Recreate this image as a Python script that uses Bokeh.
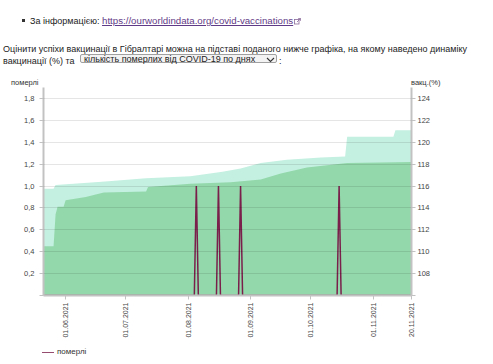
import pandas as pd
from bokeh.plotting import figure
from bokeh.models import (Range1d, LinearAxis, FixedTicker, CustomJSTickFormatter,
                          DatetimeTickFormatter, Div, ColumnDataSource, Spacer)
from bokeh.layouts import column, row
from bokeh.embed import file_html
from bokeh.resources import INLINE

# ---------------- data ----------------
# vaccination, at least one dose (%), right axis
light_dates = ["2021-05-21", "2021-05-26", "2021-05-27", "2021-06-19", "2021-07-11",
               "2021-08-02", "2021-08-18", "2021-08-27", "2021-09-06", "2021-09-19",
               "2021-10-06", "2021-10-18", "2021-10-19", "2021-11-11", "2021-11-12",
               "2021-11-20"]
light_vals = [115.75, 115.75, 116.1, 116.4, 116.7,
              116.9, 117.3, 117.6, 118.1, 118.4,
              118.6, 118.7, 120.5, 120.5, 121.1,
              121.1]
# vaccination, fully vaccinated (%), right axis
green_dates = ["2021-05-21", "2021-05-26", "2021-05-27", "2021-05-28", "2021-05-31",
               "2021-06-01", "2021-06-11", "2021-06-20", "2021-07-11", "2021-07-12",
               "2021-08-02", "2021-08-22", "2021-09-06", "2021-09-16", "2021-09-29",
               "2021-10-19", "2021-11-20"]
green_vals = [110.5, 110.5, 113.4, 114.1, 114.1,
              114.7, 115.0, 115.4, 115.5, 115.9,
              116.2, 116.35, 116.6, 117.15, 117.7,
              118.1, 118.2]
# deaths per day (left axis): days with deaths, all other days 0
death_dates = ["2021-08-05", "2021-08-16", "2021-08-27", "2021-10-15"]
death_counts = [1, 1, 1, 1]

x_start = "2021-05-21"
x_end = "2021-11-20"
tick_dates = ["2021-06-01", "2021-07-01", "2021-08-01", "2021-09-01",
              "2021-10-01", "2021-11-01", "2021-11-20"]
left_ticks = [0, 0.2, 0.4, 0.6, 0.8, 1.0, 1.2, 1.4, 1.6, 1.8]
right_ticks = [106, 108, 110, 112, 114, 116, 118, 120, 122, 124]
left_max = 1.9
vax_min, vax_max = 106, 125

legend_label = "померлі"
left_title = "померлі"
right_title = "вакц.(%)"

FONT = "Liberation Sans"
LIGHT = "#c4f0e1"
GREEN = "#93d8ab"
DEATH = "#7a1f4b"
AXIS = "#c2c2c2"
TXT = "#444444"


def ms(d):
    return pd.Timestamp(d).value / 1e6


days = pd.date_range(x_start, x_end, freq="D")
deaths = pd.Series(death_counts, index=pd.to_datetime(death_dates)).reindex(days, fill_value=0)

src_light = ColumnDataSource(dict(x=pd.to_datetime(light_dates), y=light_vals))
src_green = ColumnDataSource(dict(x=pd.to_datetime(green_dates), y=green_vals))
src_death = ColumnDataSource(dict(x=days, y=deaths.values))

p = figure(frame_width=368, frame_height=208, x_axis_type="datetime",
           x_range=Range1d(ms(x_start), ms(x_end)), y_range=Range1d(0, left_max),
           output_backend="svg", toolbar_location=None,
           min_border_left=27, min_border_right=20, min_border_top=2, min_border_bottom=0)
p.extra_y_ranges = {"vax": Range1d(vax_min, vax_max)}
p.outline_line_color = None
p.background_fill_color = "white"
p.border_fill_color = None

p.varea(x="x", y1=vax_min, y2="y", source=src_light, y_range_name="vax", fill_color=LIGHT)
p.varea(x="x", y1=vax_min, y2="y", source=src_green, y_range_name="vax", fill_color=GREEN)
r_death = p.line(x="x", y="y", source=src_death, line_color=DEATH, line_width=1.5,
                 legend_label=legend_label)
p.legend.visible = False

# grid
p.xgrid.visible = False
p.ygrid.ticker = FixedTicker(ticks=left_ticks[1:])
p.ygrid.grid_line_color = "#000000"
p.ygrid.grid_line_alpha = 0.1
p.ygrid.level = "overlay"

# x axis
xa = p.xaxis[0]
xa.ticker = FixedTicker(ticks=[ms(d) for d in tick_dates])
fmt = "%d.%m.%Y"
xa.formatter = DatetimeTickFormatter(microseconds=fmt, milliseconds=fmt, seconds=fmt,
                                     minsec=fmt, minutes=fmt, hourmin=fmt, hours=fmt,
                                     days=fmt, months=fmt, years=fmt)
xa.major_label_orientation = 3.14159265 / 2
xa.major_label_text_font_size = "7px"
xa.major_label_text_font = FONT
xa.major_label_text_color = TXT
xa.major_label_standoff = 3
xa.axis_line_color = AXIS
xa.axis_line_width = 2
xa.major_tick_line_color = AXIS
xa.major_tick_out = 4
xa.major_tick_in = 0
xa.minor_tick_line_color = None

# left axis
ya = p.yaxis[0]
ya.ticker = FixedTicker(ticks=left_ticks)
ya.formatter = CustomJSTickFormatter(code="return tick == 0 ? '' : tick.toFixed(1).replace('.', ',');")
ya.major_label_text_font_size = "7.5px"
ya.major_label_text_font = FONT
ya.major_label_text_color = TXT
ya.major_label_standoff = 5
ya.axis_line_color = AXIS
ya.axis_line_width = 2
ya.major_tick_line_color = AXIS
ya.major_tick_out = 4
ya.major_tick_in = 0
ya.minor_tick_line_color = None

# right axis
ra = LinearAxis(y_range_name="vax", ticker=FixedTicker(ticks=right_ticks),
                formatter=CustomJSTickFormatter(code="return tick == 106 ? '' : tick.toFixed(0);"))
ra.major_label_text_font_size = "7.5px"
ra.major_label_text_font = FONT
ra.major_label_text_color = TXT
ra.major_label_standoff = 2
ra.axis_line_color = AXIS
ra.axis_line_width = 2
ra.major_tick_line_color = AXIS
ra.major_tick_out = 4
ra.major_tick_in = 0
ra.minor_tick_line_color = None
p.add_layout(ra, "right")

icon = ('<svg width="7" height="7" viewBox="0 0 7 7" style="display:inline-block;vertical-align:-1px;margin-left:1px;">'
        '<rect x="0.5" y="1.5" width="4.5" height="4.5" fill="none" stroke="#8a6a9a" stroke-width="0.8"/>'
        '<path d="M3 4 L6.5 0.5 M4.2 0.5 H6.5 V2.8" fill="none" stroke="#8a6a9a" stroke-width="0.8"/></svg>')
chev = ('<svg width="9" height="6" viewBox="0 0 9 6" style="position:absolute;left:185px;top:2px">'
        '<path d="M1 1 L4.5 4.5 L8 1" fill="none" stroke="#333" stroke-width="1.1"/></svg>')

html_top = f"""
<div style="position:relative;width:477px;height:75px;font-family:'Liberation Sans',Arial,sans-serif;color:#222;white-space:nowrap;font-size:9px;line-height:12px;">
  <div style="position:absolute;left:17px;top:14px;width:3px;height:3px;background:#333;"></div>
  <div style="position:absolute;left:25px;top:10px;">За інформацією: <a href="https://ourworldindata.org/covid-vaccinations" style="color:#5f3a86;text-decoration:underline;font-size:9.7px;">https://ourworldindata.org/covid-vaccinations</a>{icon}</div>
  <div style="position:absolute;left:-2px;top:37.7px;">Оцінити успіхи вакцинації в <span style="position:relative;">Гібралтарі<span style="position:absolute;left:-4px;right:-10px;bottom:-2px;height:2px;background:#d22f2f;"></span></span> можна на підставі поданого нижче графіка, на якому наведено динаміку</div>
  <div style="position:absolute;left:-2px;top:49.5px;">вакцинації (%) та</div>
  <div style="position:absolute;left:75px;top:48.5px;width:197px;height:9px;border:1px solid #a0a0a0;border-radius:2px;background:#f3f3f3;font-size:9px;line-height:9px;">
    <span style="position:absolute;left:3px;top:0px;">кількість померлих від COVID-19 по днях</span>
    {chev}
  </div>
  <div style="position:absolute;left:274px;top:49.5px;">:</div>
  <div style="position:absolute;left:6px;top:73px;font-size:7.5px;line-height:10px;color:#333;">{left_title}</div>
  <div style="position:absolute;left:406px;top:73px;font-size:7.5px;line-height:10px;color:#333;">{right_title}</div>
</div>
"""
div_top = Div(text=html_top, width=477, height=75,
              styles={"overflow": "visible", "z-index": "5", "position": "relative"})

html_leg = f"""
<div style="position:relative;width:477px;height:12px;font-family:'Liberation Sans',Arial,sans-serif;white-space:nowrap;">
  <div style="position:absolute;left:37px;top:6.5px;width:12px;height:1.5px;background:{DEATH};opacity:0.8;"></div>
  <div style="position:absolute;left:52px;top:2px;font-size:8px;line-height:10px;color:#333;">{legend_label}</div>
</div>
"""
div_leg = Div(text=html_leg, width=477, height=12)

layout = column(div_top, row(Spacer(width=16, height=10), p, spacing=0), div_leg, spacing=0)
open("out.html", "w").write(file_html(layout, INLINE))
